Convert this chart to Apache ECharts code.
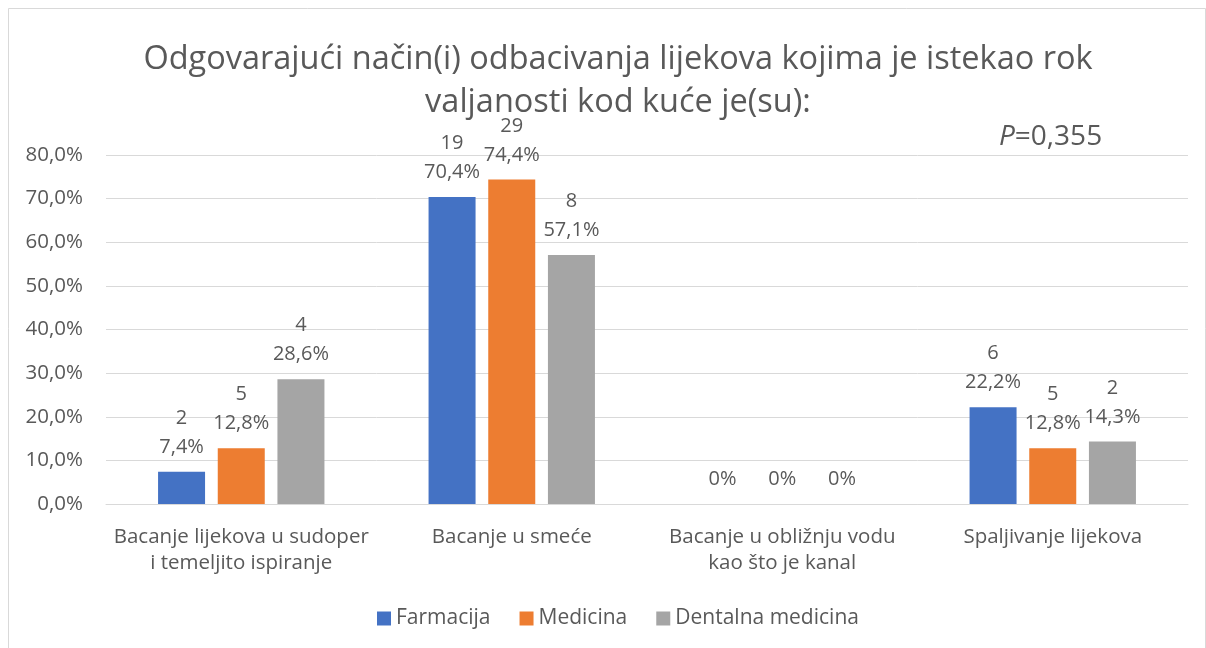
<!DOCTYPE html>
<html>
<head>
<meta charset="utf-8">
<script src="https://cdn.jsdelivr.net/npm/echarts@6/dist/echarts.min.js"></script>
<style>
  html, body { margin: 0; padding: 0; background: #fff; }
  #main { width: 1206px; height: 648px; }
</style>
</head>
<body>
<div id="main"></div>
<script>
// podaci s grafikona
const categories = [
  'Bacanje lijekova u sudoper\ni temeljito ispiranje',
  'Bacanje u smeće',
  'Bacanje u obližnju vodu\nkao što je kanal',
  'Spaljivanje lijekova'
];
const seriesNames = ['Farmacija', 'Medicina', 'Dentalna medicina'];
const colors = ['#4472C4', '#ED7D31', '#A5A5A5'];
const farmacijaPct = [7.4, 70.4, 0, 22.2];
const medicinaPct = [12.8, 74.4, 0, 12.8];
const dentalnaPct = [28.6, 57.1, 0, 14.3];
const farmacijaN = [2, 19, 0, 6];
const medicinaN = [5, 29, 0, 5];
const dentalnaN = [4, 8, 0, 2];
const yTicks = [0, 10, 20, 30, 40, 50, 60, 70, 80];

const font = '"Open Sans", sans-serif';
const txt = '#595959';

const chart = echarts.init(document.getElementById('main'));

function fmtPct(v) {
  if (v === 0) return '0%';
  return v.toFixed(1).replace('.', ',') + '%';
}

function makeSeries(name, pct, counts, color) {
  return {
    name: name,
    type: 'bar',
    data: pct,
    barWidth: 47,
    barGap: '27%',
    itemStyle: { color: color },
    label: {
      show: true,
      position: 'top',
      distance: 10,
      color: txt,
      fontFamily: font,
      fontSize: 20,
      lineHeight: 29,
      formatter: function (p) {
        const n = counts[p.dataIndex];
        if (p.value === 0) return fmtPct(0);
        return n + '\n' + fmtPct(p.value);
      }
    }
  };
}

const option = {
  backgroundColor: '#fff',
  animation: false,
  textStyle: { fontFamily: font },
  title: {
    text: 'Odgovarajući način(i) odbacivanja lijekova kojima je istekao rok\nvaljanosti kod kuće je(su):',
    left: 613,
    top: 33,
    textAlign: 'center',
    textStyle: {
      color: txt,
      fontFamily: font,
      fontSize: 32.5,
      fontWeight: 'normal',
      lineHeight: 43
    }
  },
  graphic: [
    {
      type: 'rect',
      shape: { x: 8.5, y: 8.5, width: 1197, height: 650 },
      style: { fill: 'none', stroke: '#d9d9d9', lineWidth: 1 }
    },
    {
      type: 'text',
      left: 999,
      top: 123,
      style: {
        text: '{i|P}=0,355',
        rich: {
          i: { fontStyle: 'italic', fontSize: 28, fill: txt, fontFamily: font }
        },
        fontSize: 28,
        fill: txt,
        fontFamily: font
      }
    }
  ],
  legend: {
    bottom: 14,
    left: 372,
    itemWidth: 14,
    itemHeight: 14,
    itemGap: 29,
    icon: 'rect',
    textStyle: { color: txt, fontSize: 21, fontFamily: font },
    data: seriesNames
  },
  grid: {
    left: 106,
    right: 18,
    top: 155,
    bottom: 144
  },
  xAxis: {
    type: 'category',
    data: categories,
    axisLine: { lineStyle: { color: '#d9d9d9', width: 1 } },
    axisTick: { show: false },
    axisLabel: {
      color: txt,
      fontSize: 20.5,
      fontFamily: font,
      lineHeight: 26,
      margin: 20,
      interval: 0
    }
  },
  yAxis: {
    type: 'value',
    min: yTicks[0],
    max: yTicks[yTicks.length - 1],
    interval: 10,
    axisLine: { show: false },
    axisTick: { show: false },
    splitLine: { lineStyle: { color: '#d9d9d9', width: 1 } },
    axisLabel: {
      color: txt,
      fontSize: 20.5,
      fontFamily: font,
      margin: 23,
      formatter: function (v) { return v.toFixed(1).replace('.', ',') + '%'; }
    }
  },
  series: [
    makeSeries(seriesNames[0], farmacijaPct, farmacijaN, colors[0]),
    makeSeries(seriesNames[1], medicinaPct, medicinaN, colors[1]),
    makeSeries(seriesNames[2], dentalnaPct, dentalnaN, colors[2])
  ]
};

chart.setOption(option);
</script>
</body>
</html>
